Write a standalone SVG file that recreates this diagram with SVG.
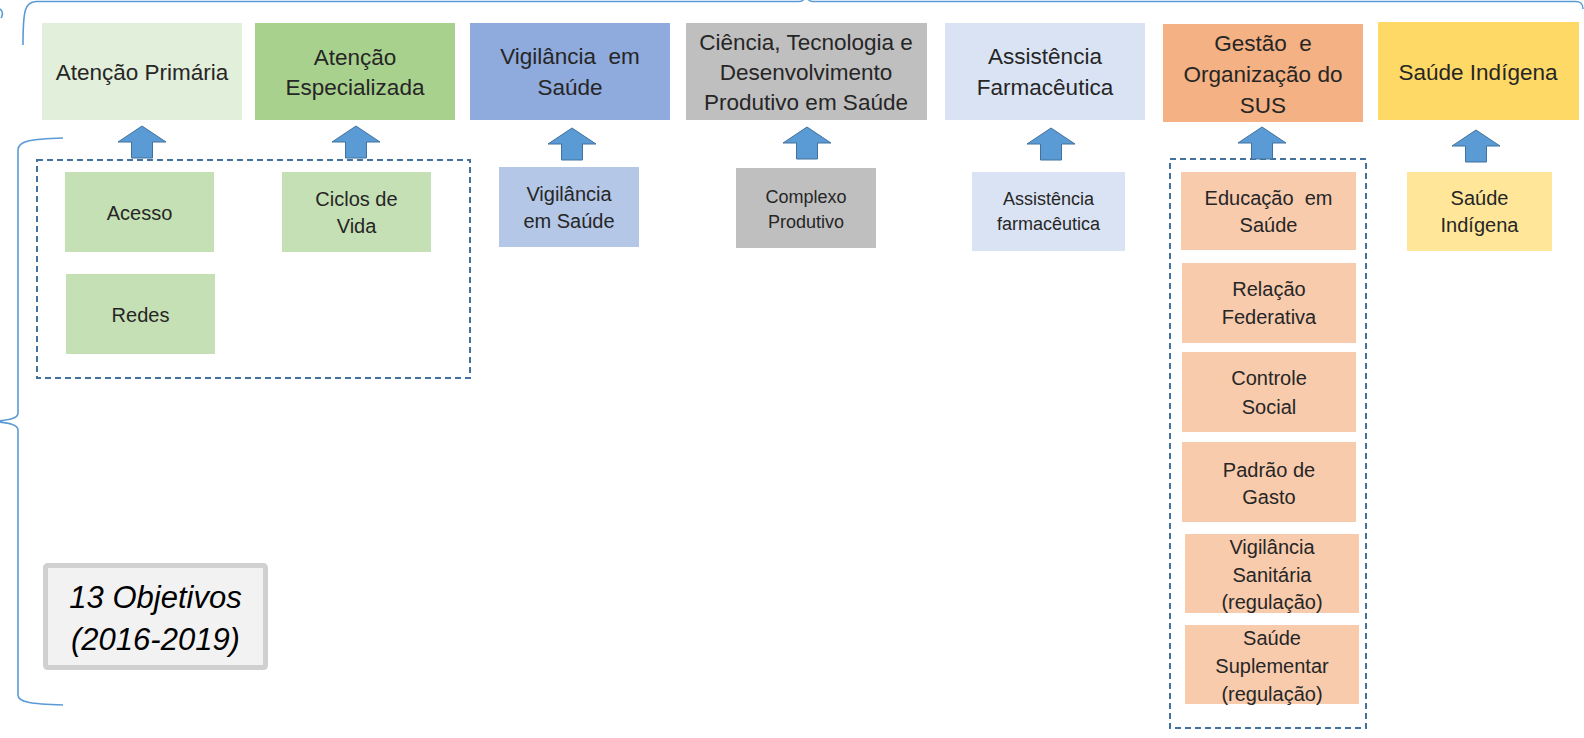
<svg xmlns="http://www.w3.org/2000/svg" width="1584" height="738" viewBox="0 0 1584 738">
<style>
text{font-family:"Liberation Sans",Arial,sans-serif;fill:#262626;text-anchor:middle;white-space:pre}
.t{font-size:22.5px}
.s{font-size:20px}
.m{font-size:18px}
.brace{fill:none;stroke:#5B9BD5;stroke-width:1.6}
.dash{fill:none;stroke:#41719C;stroke-width:2;stroke-dasharray:6 4}
.arr{fill:#5B9BD5;stroke:#41719C;stroke-width:1}
</style>
<defs>
<path id="up" d="M0,0 L24,16 L10.5,16 L10.5,32 L-10.5,32 L-10.5,16 L-24,16 Z"/>
</defs>
<rect width="1584" height="738" fill="#fff"/>

<g id="braces">
<path class="brace" d="M23,45 C23,10 25,2 36,1.5 L799,1.5 C803,1.5 805,0 806,-6 C807,0 809,1.5 813,1.5 L1575,1.5 C1580,1.5 1583,3 1583,9"/>
<path class="brace" d="M63,138 C30,139 18,141 18,150 L18,413 C18,419 8,420 -5,421.5 C8,423 18,424 18,430 L18,695 C18,702 30,704 63,705"/>
<path class="brace" d="M0,9 C3,11 3,15 1,18"/>
</g>

<g id="groups">
<rect class="dash" x="37" y="160" width="433" height="218"/>
<rect class="dash" x="1170" y="159" width="196" height="569"/>
</g>

<g id="top-atencao-primaria">
<rect x="42" y="23" width="200" height="97" fill="#E2EFDA"/>
<text class="t" x="142" y="80">Atenção Primária</text>
</g>
<g id="top-atencao-especializada">
<rect x="255" y="23" width="200" height="97" fill="#A9D18E"/>
<text class="t" x="355" y="65">Atenção</text>
<text class="t" x="355" y="95">Especializada</text>
</g>
<g id="top-vigilancia">
<rect x="470" y="23" width="200" height="97" fill="#8FAADC"/>
<text class="t" x="570" y="64">Vigilância  em</text>
<text class="t" x="570" y="95">Saúde</text>
</g>
<g id="top-ciencia">
<rect x="686" y="23" width="241" height="97" fill="#BFBFBF"/>
<text class="t" x="806" y="50">Ciência, Tecnologia e</text>
<text class="t" x="806" y="80">Desenvolvimento</text>
<text class="t" x="806" y="110">Produtivo em Saúde</text>
</g>
<g id="top-assistencia">
<rect x="945" y="23" width="200" height="97" fill="#DAE3F3"/>
<text class="t" x="1045" y="64">Assistência</text>
<text class="t" x="1045" y="95">Farmacêutica</text>
</g>
<g id="top-gestao">
<rect x="1163" y="24" width="200" height="98" fill="#F4B183"/>
<text class="t" x="1263" y="51">Gestão  e</text>
<text class="t" x="1263" y="82">Organização do</text>
<text class="t" x="1263" y="113">SUS</text>
</g>
<g id="top-saude-indigena">
<rect x="1378" y="22" width="201" height="98" fill="#FFD966"/>
<text class="t" x="1478" y="80">Saúde Indígena</text>
</g>

<g id="connectors">
<use href="#up" class="arr" x="142" y="126"/>
<use href="#up" class="arr" x="356" y="126"/>
<use href="#up" class="arr" x="572" y="128"/>
<use href="#up" class="arr" x="807" y="127"/>
<use href="#up" class="arr" x="1051" y="128"/>
<use href="#up" class="arr" x="1262" y="127"/>
<use href="#up" class="arr" x="1476" y="130"/>
</g>

<g id="sub-acesso">
<rect x="65" y="172" width="149" height="80" fill="#C5E0B4"/>
<text class="s" x="139.5" y="220">Acesso</text>
</g>
<g id="sub-ciclos">
<rect x="282" y="172" width="149" height="80" fill="#C5E0B4"/>
<text class="s" x="356.5" y="206">Ciclos de</text>
<text class="s" x="356.5" y="233">Vida</text>
</g>
<g id="sub-redes">
<rect x="66" y="274" width="149" height="80" fill="#C5E0B4"/>
<text class="s" x="140.5" y="322">Redes</text>
</g>
<g id="sub-vigilancia">
<rect x="499" y="167" width="140" height="80" fill="#B4C7E7"/>
<text class="s" x="569" y="201">Vigilância</text>
<text class="s" x="569" y="228">em Saúde</text>
</g>
<g id="sub-complexo">
<rect x="736" y="168" width="140" height="80" fill="#BFBFBF"/>
<text class="m" x="806" y="203">Complexo</text>
<text class="m" x="806" y="228">Produtivo</text>
</g>
<g id="sub-assistencia">
<rect x="972" y="172" width="153" height="79" fill="#DAE3F3"/>
<text class="m" x="1048.5" y="205">Assistência</text>
<text class="m" x="1048.5" y="230">farmacêutica</text>
</g>
<g id="sub-educacao">
<rect x="1181" y="172" width="175" height="78" fill="#F8CBAD"/>
<text class="s" x="1268.5" y="205">Educação  em</text>
<text class="s" x="1268.5" y="232">Saúde</text>
</g>
<g id="sub-relacao">
<rect x="1182" y="263" width="174" height="80" fill="#F8CBAD"/>
<text class="s" x="1269" y="296">Relação</text>
<text class="s" x="1269" y="324">Federativa</text>
</g>
<g id="sub-controle">
<rect x="1182" y="352" width="174" height="80" fill="#F8CBAD"/>
<text class="s" x="1269" y="385">Controle</text>
<text class="s" x="1269" y="414">Social</text>
</g>
<g id="sub-padrao">
<rect x="1182" y="442" width="174" height="80" fill="#F8CBAD"/>
<text class="s" x="1269" y="477">Padrão de</text>
<text class="s" x="1269" y="504">Gasto</text>
</g>
<g id="sub-vigilancia-sanitaria">
<rect x="1185" y="534" width="174" height="79" fill="#F8CBAD"/>
<text class="s" x="1272" y="554">Vigilância</text>
<text class="s" x="1272" y="582">Sanitária</text>
<text class="s" x="1272" y="609">(regulação)</text>
</g>
<g id="sub-saude-suplementar">
<rect x="1185" y="625" width="174" height="79" fill="#F8CBAD"/>
<text class="s" x="1272" y="645">Saúde</text>
<text class="s" x="1272" y="673">Suplementar</text>
<text class="s" x="1272" y="701">(regulação)</text>
</g>
<g id="sub-saude-indigena">
<rect x="1407" y="172" width="145" height="79" fill="#FFE699"/>
<text class="s" x="1479.5" y="205">Saúde</text>
<text class="s" x="1479.5" y="232">Indígena</text>
</g>

<g id="objetivos">
<rect x="45.5" y="565.5" width="220" height="102" rx="2" fill="#F2F2F2" stroke="#D0D0D0" stroke-width="5"/>
<text x="155.5" y="608" style="font-size:31px;font-style:italic;fill:#000">13 Objetivos</text>
<text x="155.5" y="650" style="font-size:31px;font-style:italic;fill:#000">(2016-2019)</text>
</g>
</svg>
